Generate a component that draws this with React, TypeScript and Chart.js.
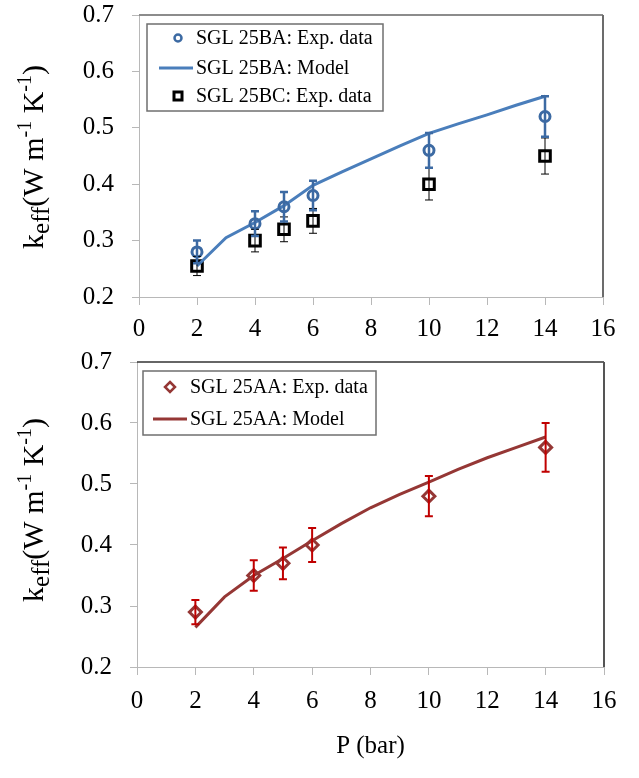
import React, { useEffect, useRef } from "react";
import { Chart, registerables } from "chart.js";

Chart.register(...registerables);

const FONT = "'Liberation Serif', 'Times New Roman', serif";

// ---- data ----
const pressureExp = [2, 4, 5, 6, 10, 14];
const pressureModel = [2, 3, 4, 5, 6, 7, 8, 9, 10, 11, 12, 13, 14];

const ba_exp = [0.28, 0.33, 0.36, 0.38, 0.46, 0.52];
const ba_err = [0.02, 0.022, 0.026, 0.026, 0.031, 0.036];
const ba_model = [0.255, 0.305, 0.332, 0.362, 0.398, 0.422, 0.445, 0.468, 0.49, 0.507, 0.523, 0.54, 0.556];
const bc_exp = [0.255, 0.3, 0.32, 0.335, 0.4, 0.45];
const bc_err = [0.017, 0.02, 0.022, 0.022, 0.028, 0.032];

const aa_exp = [0.29, 0.35, 0.37, 0.4, 0.48, 0.56];
const aa_err = [0.02, 0.025, 0.026, 0.028, 0.033, 0.04];
const aa_model = [0.265, 0.315, 0.35, 0.378, 0.407, 0.435, 0.461, 0.483, 0.503, 0.524, 0.543, 0.56, 0.577];

const xTicks = [0, 2, 4, 6, 8, 10, 12, 14, 16];
const yTicks = [0.2, 0.3, 0.4, 0.5, 0.6, 0.7];

const labelBAexp = "SGL 25BA: Exp. data";
const labelBAmodel = "SGL 25BA: Model";
const labelBCexp = "SGL 25BC: Exp. data";
const labelAAexp = "SGL 25AA: Exp. data";
const labelAAmodel = "SGL 25AA: Model";
const xTitle = "P (bar)";

const BLUE_LINE = "#4a7ebb";
const BLUE_MARK = "#3c6aa3";
const BROWN = "#953735";
const RED_ERR = "#c00000";

const pts = (xs: number[], ys: number[]) => xs.map((x, i) => ({ x, y: ys[i] }));

// ---- plugins ----
const errorBarPlugin = {
  id: "errorBars",
  afterDatasetsDraw(chart: any) {
    const ctx = chart.ctx;
    const ys = chart.scales.y;
    const n = chart.data.datasets.length;
    for (let i = n - 1; i >= 0; i--) {
      const ds: any = chart.data.datasets[i];
      if (!ds.errors) continue;
      const meta = chart.getDatasetMeta(i);
      ctx.save();
      ctx.strokeStyle = ds.errorColor;
      ctx.lineWidth = ds.errorWidth;
      meta.data.forEach((el: any, j: number) => {
        const v = ds.data[j].y;
        const e = ds.errors[j];
        const x = el.x;
        const t = ys.getPixelForValue(v + e);
        const b = ys.getPixelForValue(v - e);
        const cap = ds.errorCap;
        ctx.beginPath();
        ctx.moveTo(x, t);
        ctx.lineTo(x, b);
        ctx.moveTo(x - cap, t);
        ctx.lineTo(x + cap, t);
        ctx.moveTo(x - cap, b);
        ctx.lineTo(x + cap, b);
        ctx.stroke();
      });
      ctx.restore();
    }
  },
};

function framePlugin(topColor: string, topWidth: number, rightColor: string, rightWidth: number) {
  return {
    id: "frame",
    afterDraw(chart: any) {
      const { ctx, chartArea: a } = chart;
      ctx.save();
      ctx.strokeStyle = topColor;
      ctx.lineWidth = topWidth;
      ctx.beginPath();
      ctx.moveTo(a.left, a.top);
      ctx.lineTo(a.right, a.top);
      ctx.stroke();
      ctx.strokeStyle = rightColor;
      ctx.lineWidth = rightWidth;
      ctx.beginPath();
      ctx.moveTo(a.right, a.top);
      ctx.lineTo(a.right, a.bottom);
      ctx.stroke();
      ctx.restore();
    },
  };
}

type LegendItem = { kind: "circle" | "line" | "square" | "diamond"; color: string; text: string };

function legendPlugin(
  items: LegendItem[],
  box: { dx: number; dy: number; w: number; h: number },
  rows: number[],
  markX: number,
  lineX0: number,
  lineX1: number,
  textX: number
) {
  return {
    id: "customLegend",
    afterDraw(chart: any) {
      const { ctx, chartArea: a } = chart;
      const bx = a.left + box.dx;
      const by = a.top + box.dy;
      ctx.save();
      ctx.fillStyle = "#ffffff";
      ctx.fillRect(bx, by, box.w, box.h);
      ctx.strokeStyle = "#6f6f6f";
      ctx.lineWidth = 1.5;
      ctx.strokeRect(bx, by, box.w, box.h);
      items.forEach((it, i) => {
        const cy = by + rows[i];
        ctx.strokeStyle = it.color;
        if (it.kind === "circle") {
          ctx.lineWidth = 2.5;
          ctx.beginPath();
          ctx.arc(bx + markX, cy, 3.5, 0, Math.PI * 2);
          ctx.stroke();
        } else if (it.kind === "square") {
          ctx.lineWidth = 3;
          ctx.strokeRect(bx + markX - 4, cy - 4, 8, 8);
        } else if (it.kind === "diamond") {
          ctx.lineWidth = 2.5;
          ctx.beginPath();
          ctx.moveTo(bx + markX, cy - 5);
          ctx.lineTo(bx + markX + 5, cy);
          ctx.lineTo(bx + markX, cy + 5);
          ctx.lineTo(bx + markX - 5, cy);
          ctx.closePath();
          ctx.stroke();
        } else {
          ctx.lineWidth = 3;
          ctx.beginPath();
          ctx.moveTo(bx + lineX0, cy);
          ctx.lineTo(bx + lineX1, cy);
          ctx.stroke();
        }
        ctx.fillStyle = "#000";
        ctx.font = `20px ${FONT}`;
        ctx.textBaseline = "middle";
        ctx.textAlign = "left";
        ctx.fillText(it.text, bx + textX, cy + 1);
      });
      ctx.restore();
    },
  };
}

function yTitlePlugin(baseX: number, centerY: number) {
  return {
    id: "yTitle",
    afterDraw(chart: any) {
      const ctx = chart.ctx;
      const parts = [
        { t: "k", s: 30, dy: 0 },
        { t: "eff", s: 25, dy: 6 },
        { t: "(W m", s: 30, dy: 0 },
        { t: "-1", s: 20, dy: -12 },
        { t: " K", s: 30, dy: 0 },
        { t: "-1", s: 20, dy: -12 },
        { t: ")", s: 30, dy: 0 },
      ];
      ctx.save();
      ctx.fillStyle = "#000";
      ctx.textBaseline = "alphabetic";
      ctx.textAlign = "left";
      let total = 0;
      const widths = parts.map((p) => {
        ctx.font = `${p.s}px ${FONT}`;
        const w = ctx.measureText(p.t).width;
        total += w;
        return w;
      });
      ctx.translate(baseX, centerY);
      ctx.rotate(-Math.PI / 2);
      let x = -total / 2;
      parts.forEach((p, i) => {
        ctx.font = `${p.s}px ${FONT}`;
        ctx.fillText(p.t, x, p.dy);
        x += widths[i];
      });
      ctx.restore();
    },
  };
}

function makeScales(yWidth: number, xHeight: number, xLabelPad: number, showTitle: boolean) {
  return {
    x: {
      type: "linear",
      min: 0,
      max: 16,
      afterBuildTicks: (s: any) => {
        s.ticks = xTicks.map((v) => ({ value: v }));
      },
      afterFit: (s: any) => {
        s.height = xHeight;
        s.paddingLeft = 0;
        s.paddingRight = 0;
      },
      grid: { drawOnChartArea: false, drawTicks: true, tickLength: 8, color: "#b8b8b8", lineWidth: 1 },
      border: { display: true, color: "#b8b8b8", width: 1 },
      ticks: {
        color: "#000",
        font: { size: 25, family: FONT },
        padding: xLabelPad,
        maxRotation: 0,
        callback: (v: any) => String(v),
      },
      title: {
        display: showTitle,
        text: xTitle,
        color: "#000",
        font: { size: 25, family: FONT },
        padding: { top: 14, bottom: 0 },
      },
    },
    y: {
      type: "linear",
      min: 0.2,
      max: 0.7,
      afterBuildTicks: (s: any) => {
        s.ticks = yTicks.map((v) => ({ value: v }));
      },
      afterFit: (s: any) => {
        s.width = yWidth;
        s.paddingTop = 0;
        s.paddingBottom = 0;
      },
      grid: { drawOnChartArea: false, drawTicks: true, tickLength: 7, color: "#b8b8b8", lineWidth: 1 },
      border: { display: true, color: "#b8b8b8", width: 1 },
      ticks: {
        color: "#000",
        font: { size: 25, family: FONT },
        padding: 18,
        callback: (v: any) => Number(v).toFixed(1),
      },
    },
  };
}

function TopChart() {
  const ref = useRef<HTMLCanvasElement>(null);
  useEffect(() => {
    const chart = new Chart(ref.current as HTMLCanvasElement, {
      type: "scatter",
      data: {
        datasets: [
          {
            label: labelBAexp,
            data: pts(pressureExp, ba_exp),
            showLine: false,
            pointStyle: "circle",
            pointRadius: 5,
            pointBorderWidth: 3,
            pointBorderColor: BLUE_MARK,
            pointBackgroundColor: "rgba(0,0,0,0)",
            errors: ba_err,
            errorColor: BLUE_MARK,
            errorWidth: 2.5,
            errorCap: 4,
          } as any,
          {
            label: labelBAmodel,
            data: pts(pressureModel, ba_model),
            showLine: true,
            borderColor: BLUE_LINE,
            borderWidth: 3,
            pointRadius: 0,
            tension: 0,
          } as any,
          {
            label: labelBCexp,
            data: pts(pressureExp, bc_exp),
            showLine: false,
            pointStyle: "rect",
            pointRadius: 7.5,
            pointBorderWidth: 3,
            pointBorderColor: "#000",
            pointBackgroundColor: "rgba(0,0,0,0)",
            errors: bc_err,
            errorColor: "#000",
            errorWidth: 1,
            errorCap: 4,
          } as any,
        ],
      },
      options: {
        responsive: false,
        animation: false,
        devicePixelRatio: 1,
        layout: { padding: { left: 0, right: 36, top: 15, bottom: 0 } },
        plugins: { legend: { display: false }, tooltip: { enabled: false } },
        scales: makeScales(139, 53, 9, false) as any,
      },
      plugins: [
        errorBarPlugin,
        framePlugin("#8c8c8c", 2, "#6c6c6c", 2),
        legendPlugin(
          [
            { kind: "circle", color: BLUE_MARK, text: labelBAexp },
            { kind: "line", color: BLUE_LINE, text: labelBAmodel },
            { kind: "square", color: "#000", text: labelBCexp },
          ],
          { dx: 8, dy: 9, w: 236, h: 87 },
          [14, 44, 72],
          31,
          12,
          46,
          49
        ),
        yTitlePlugin(43, 157),
      ] as any,
    });
    return () => chart.destroy();
  }, []);
  return <canvas ref={ref} width={639} height={350} style={{ display: "block", width: 639, height: 350 }} />;
}

function BottomChart() {
  const ref = useRef<HTMLCanvasElement>(null);
  useEffect(() => {
    const chart = new Chart(ref.current as HTMLCanvasElement, {
      type: "scatter",
      data: {
        datasets: [
          {
            label: labelAAexp,
            data: pts(pressureExp, aa_exp),
            showLine: false,
            pointStyle: "rectRot",
            pointRadius: 6,
            pointBorderWidth: 3,
            pointBorderColor: BROWN,
            pointBackgroundColor: "rgba(0,0,0,0)",
            errors: aa_err,
            errorColor: RED_ERR,
            errorWidth: 2,
            errorCap: 4,
          } as any,
          {
            label: labelAAmodel,
            data: pts(pressureModel, aa_model),
            showLine: true,
            borderColor: BROWN,
            borderWidth: 3,
            pointRadius: 0,
            tension: 0,
          } as any,
        ],
      },
      options: {
        responsive: false,
        animation: false,
        devicePixelRatio: 1,
        layout: { padding: { left: 0, right: 35, top: 12, bottom: 17 } },
        plugins: { legend: { display: false }, tooltip: { enabled: false } },
        scales: makeScales(137, 94, 11, true) as any,
      },
      plugins: [
        errorBarPlugin,
        framePlugin("#333333", 1.5, "#555555", 2),
        legendPlugin(
          [
            { kind: "diamond", color: BROWN, text: labelAAexp },
            { kind: "line", color: BROWN, text: labelAAmodel },
          ],
          { dx: 6, dy: 9, w: 233, h: 64 },
          [16, 48],
          27,
          10,
          44,
          47
        ),
        yTitlePlugin(43, 160),
      ] as any,
    });
    return () => chart.destroy();
  }, []);
  return <canvas ref={ref} width={639} height={428} style={{ display: "block", width: 639, height: 428 }} />;
}

export default function App() {
  return (
    <div style={{ position: "absolute", left: 0, top: 0, width: 639, height: 778, background: "#fff" }}>
      <TopChart />
      <BottomChart />
    </div>
  );
}
